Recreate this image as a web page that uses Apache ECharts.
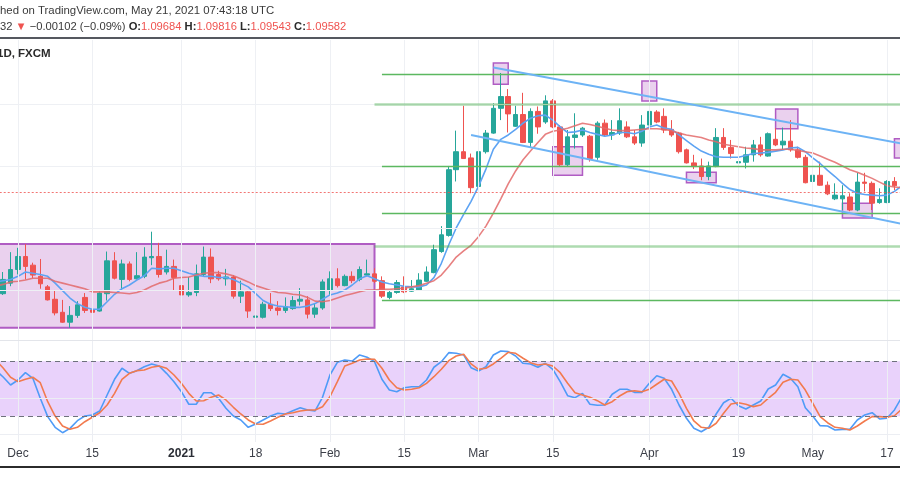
<!DOCTYPE html>
<html><head><meta charset="utf-8">
<script src="https://cdn.jsdelivr.net/npm/echarts@6.0.0/dist/echarts.min.js"></script>
<style>html,body{margin:0;padding:0;background:#fff;overflow:hidden}#c{width:900px;height:500px}</style>
</head><body><div id="c"></div>
<script>
// ---- trading days (EUR/CHF daily, FXCM) ----
const categories = [
'2020-11-26','2020-11-27','2020-11-30',
'2020-12-01','2020-12-02','2020-12-03','2020-12-04',
'2020-12-07','2020-12-08','2020-12-09','2020-12-10','2020-12-11',
'2020-12-14','2020-12-15','2020-12-16','2020-12-17','2020-12-18',
'2020-12-21','2020-12-22','2020-12-23','2020-12-24',
'2020-12-28','2020-12-29','2020-12-30','2020-12-31',
'2021-01-04','2021-01-05','2021-01-06','2021-01-07','2021-01-08',
'2021-01-11','2021-01-12','2021-01-13','2021-01-14','2021-01-15',
'2021-01-18','2021-01-19','2021-01-20','2021-01-21','2021-01-22',
'2021-01-25','2021-01-26','2021-01-27','2021-01-28','2021-01-29',
'2021-02-01','2021-02-02','2021-02-03','2021-02-04','2021-02-05',
'2021-02-08','2021-02-09','2021-02-10','2021-02-11','2021-02-12',
'2021-02-15','2021-02-16','2021-02-17','2021-02-18','2021-02-19',
'2021-02-22','2021-02-23','2021-02-24','2021-02-25','2021-02-26',
'2021-03-01','2021-03-02','2021-03-03','2021-03-04','2021-03-05',
'2021-03-08','2021-03-09','2021-03-10','2021-03-11','2021-03-12',
'2021-03-15','2021-03-16','2021-03-17','2021-03-18','2021-03-19',
'2021-03-22','2021-03-23','2021-03-24','2021-03-25','2021-03-26',
'2021-03-29','2021-03-30','2021-03-31','2021-04-01','2021-04-02',
'2021-04-05','2021-04-06','2021-04-07','2021-04-08','2021-04-09',
'2021-04-12','2021-04-13','2021-04-14','2021-04-15','2021-04-16',
'2021-04-19','2021-04-20','2021-04-21','2021-04-22','2021-04-23',
'2021-04-26','2021-04-27','2021-04-28','2021-04-29','2021-04-30',
'2021-05-03','2021-05-04','2021-05-05','2021-05-06','2021-05-07',
'2021-05-10','2021-05-11','2021-05-12','2021-05-13','2021-05-14',
'2021-05-17','2021-05-18','2021-05-19','2021-05-20'
];

// [open, high, low, close]; null = no visible candle
const ohlc = [
null,
[1.0794,1.0829,1.0792,1.0817],[1.0811,1.0861,1.0806,1.0833],[1.0833,1.0868,1.0825,1.0854],[1.0854,1.0874,1.0817,1.0838],[1.0840,1.0844,1.0819,1.0824],
[1.0822,1.0850,1.0802,1.0810],[1.0805,1.0808,1.0783,1.0784],[1.0785,1.0800,1.0759,1.0763],[1.0764,1.0784,1.0747,1.0748],[1.0748,1.0774,1.0739,1.0759],
[1.0759,1.0782,1.0755,1.0776],[1.0788,1.0795,1.0763,1.0767],[1.0768,1.0790,1.0759,1.0764],[1.0766,1.0798,1.0765,1.0795],[1.0794,1.0862,1.0783,1.0847],
[1.0847,1.0861,1.0817,1.0819],[1.0817,1.0849,1.0800,1.0842],[1.0842,1.0846,1.0814,1.0817],[1.0818,1.0861,1.0817,1.0823],[1.0822,1.0869,1.0819,1.0853],
[1.0852,1.0894,1.0840,1.0854],[1.0854,1.0876,1.0820,1.0825],[1.0829,1.0865,1.0825,1.0838],[1.0838,1.0849,1.0800,1.0820],[1.0807,1.0811,1.0790,1.0792],
[1.0792,1.0821,1.0789,1.0796],[1.0796,1.0841,1.0790,1.0826],[1.0825,1.0870,1.0822,1.0853],[1.0853,1.0867,1.0811,1.0818],[1.0825,1.0831,1.0815,1.0818],
[1.0818,1.0834,1.0807,1.0821],[1.0821,1.0824,1.0786,1.0790],[1.0790,1.0815,1.0779,1.0797],[1.0797,1.0799,1.0755,1.0766],[1.0756,1.0774,1.0743,1.0758],
[1.0756,1.0781,1.0754,1.0777],[1.0777,1.0795,1.0766,1.0770],[1.0771,1.0782,1.0759,1.0767],[1.0767,1.0788,1.0763,1.0773],[1.0770,1.0790,1.0768,1.0783],
[1.0782,1.0803,1.0775,1.0785],[1.0784,1.0790,1.0754,1.0761],[1.0761,1.0779,1.0755,1.0771],[1.0771,1.0817,1.0768,1.0813],[1.0800,1.0830,1.0792,1.0818],
[1.0818,1.0835,1.0804,1.0807],[1.0807,1.0825,1.0806,1.0822],[1.0822,1.0830,1.0811,1.0815],[1.0817,1.0838,1.0814,1.0833],[1.0824,1.0849,1.0822,1.0826],
[1.0826,1.0835,1.0811,1.0814],[1.0815,1.0822,1.0787,1.0790],[1.0788,1.0800,1.0785,1.0796],[1.0796,1.0816,1.0794,1.0812],[1.0805,1.0822,1.0795,1.0797],
[1.0798,1.0816,1.0797,1.0802],[1.0800,1.0827,1.0799,1.0816],[1.0814,1.0838,1.0813,1.0829],[1.0828,1.0873,1.0827,1.0865],[1.0862,1.0903,1.0860,1.0889],
[1.0888,1.1000,1.0886,1.0994],[1.0994,1.1057,1.0975,1.1023],[1.1023,1.1097,1.1012,1.1012],[1.1013,1.1020,1.0956,1.0965],[1.0967,1.1027,1.0955,1.1023],
[1.1023,1.1058,1.1020,1.1053],[1.1053,1.1101,1.1052,1.1093],[1.1093,1.1150,1.1074,1.1112],[1.1112,1.1124,1.1054,1.1084],[1.1064,1.1097,1.1063,1.1083],
[1.1083,1.1118,1.1037,1.1038],[1.1038,1.1093,1.1030,1.1088],[1.1088,1.1096,1.1052,1.1063],[1.1071,1.1114,1.1068,1.1105],[1.1105,1.1108,1.1061,1.1063],
[1.1063,1.1066,1.1000,1.1002],[1.1002,1.1058,1.1000,1.1047],[1.1046,1.1085,1.1028,1.1050],[1.1050,1.1063,1.1047,1.1061],[1.1048,1.1050,1.1007,1.1012],
[1.1014,1.1072,1.1010,1.1069],[1.1069,1.1075,1.1048,1.1050],[1.1050,1.1074,1.1042,1.1054],[1.1053,1.1093,1.1050,1.1073],[1.1063,1.1072,1.1045,1.1047],
[1.1047,1.1058,1.1034,1.1037],[1.1037,1.1082,1.1031,1.1066],[1.1066,1.1117,1.1058,1.1088],[1.1087,1.1090,1.1069,1.1071],[1.1080,1.1093,1.1053,1.1058],
[1.1059,1.1074,1.1047,1.1050],[1.1053,1.1055,1.1020,1.1023],[1.1026,1.1028,1.1004,1.1005],[1.1005,1.1018,1.0995,1.0999],[1.1000,1.1012,1.0977,1.0983],
[1.0983,1.1007,1.0977,1.1000],[1.0999,1.1061,1.0998,1.1046],[1.1046,1.1061,1.1026,1.1030],[1.1030,1.1042,1.1012,1.1020],[1.1005,1.1028,1.0994,1.1007],
[1.1006,1.1031,1.0996,1.1018],[1.1018,1.1042,1.1007,1.1034],[1.1034,1.1047,1.1015,1.1018],[1.1016,1.1054,1.1015,1.1052],[1.1043,1.1061,1.1032,1.1034],
[1.1034,1.1062,1.1026,1.1040],[1.1040,1.1074,1.1023,1.1026],[1.1026,1.1031,1.1012,1.1014],[1.1014,1.1018,1.0972,1.0973],[1.0975,1.1018,1.0959,1.0985],
[1.0985,1.1007,1.0968,1.0969],[1.0969,1.0975,1.0953,1.0955],[1.0947,1.0972,1.0945,1.0953],[1.0947,1.0969,1.0929,1.0952],[1.0950,1.0956,1.0927,1.0929],
[1.0929,1.0989,1.0927,1.0974],[1.0974,1.0989,1.0959,1.0972],[1.0972,1.0975,1.0929,1.0940],[1.0941,1.0964,1.0939,1.0946],[1.0941,1.0977,1.0940,1.0975],
[1.0975,1.0982,1.0961,1.0968],
null, null
];

// moving averages
const maFast = [1.0813,
1.0815,1.0817,1.0822,1.0829,1.0827,1.0825,1.0822,1.0811,1.0799,1.0787,
1.0778,1.0772,1.0769,1.0769,1.0781,1.0793,1.0802,1.0808,1.0816,1.0823,
1.0835,1.0834,1.0835,1.0835,1.0831,1.0827,1.0824,1.0822,1.0822,1.0820,
1.0820,1.0817,1.0811,1.0805,1.0794,1.0783,1.0777,1.0774,1.0773,1.0772,
1.0772,1.0774,1.0778,1.0785,1.0792,1.0795,1.0800,1.0808,1.0818,1.0823,
1.0818,1.0813,1.0810,1.0808,1.0806,1.0805,1.0805,1.0808,1.0820,1.0843,
1.0873,1.0900,1.0922,1.0943,1.0967,1.0995,1.1027,1.1043,1.1050,1.1059,
1.1069,1.1077,1.1081,1.1082,1.1074,1.1063,1.1054,1.1055,1.1058,1.1054,
1.1051,1.1048,1.1050,1.1054,1.1054,1.1052,1.1056,1.1063,1.1066,1.1061,
1.1059,1.1050,1.1041,1.1032,1.1024,1.1019,1.1015,1.1014,1.1014,1.1014,
1.1017,1.1020,1.1021,1.1022,1.1024,1.1026,1.1029,1.1030,1.1023,1.1013,
1.1004,1.0993,1.0983,1.0972,1.0962,1.0956,1.0954,1.0953,1.0952,1.0953,
1.0959,1.0968,null];
const maSlow = [1.0806,
1.0809,1.0813,1.0814,1.0816,1.0819,1.0819,1.0819,1.0814,1.0811,1.0808,
1.0805,1.0802,1.0797,1.0797,1.0797,1.0796,1.0795,1.0794,1.0796,1.0800,
1.0806,1.0811,1.0814,1.0819,1.0820,1.0821,1.0824,1.0827,1.0828,1.0828,
1.0826,1.0823,1.0818,1.0813,1.0807,1.0803,1.0799,1.0796,1.0795,1.0793,
1.0792,1.0788,1.0782,1.0781,1.0783,1.0787,1.0791,1.0794,1.0797,1.0800,
1.0800,1.0801,1.0801,1.0802,1.0803,1.0805,1.0807,1.0811,1.0815,1.0824,
1.0838,1.0853,1.0863,1.0872,1.0886,1.0903,1.0924,1.0947,1.0971,1.0992,
1.1010,1.1024,1.1038,1.1051,1.1056,1.1058,1.1061,1.1065,1.1069,1.1067,
1.1064,1.1061,1.1058,1.1057,1.1057,1.1058,1.1059,1.1060,1.1060,1.1059,
1.1057,1.1053,1.1050,1.1048,1.1046,1.1042,1.1039,1.1035,1.1033,1.1031,
1.1029,1.1028,1.1026,1.1026,1.1026,1.1027,1.1027,1.1025,1.1023,1.1021,
1.1016,1.1011,1.1006,1.1000,1.0994,1.0990,1.0985,1.0980,1.0974,1.0968,
1.0966,1.0965,null];

// Stochastic RSI %K and %D
const stochK = [70.4,
62.8,54.1,59.5,67.5,61.4,39.6,19.6,8.0,2.1,6.9,
15.2,20.3,21.4,25.8,43.2,60.3,72.3,66.8,69.7,74.0,
77.0,74.8,66.8,57.7,46.8,33.1,33.1,45.7,45.7,39.6,
28.7,20.3,16.0,8.0,11.6,16.0,20.3,23.3,22.5,26.1,
29.4,26.9,25.8,40.7,65.0,78.8,81.3,80.2,86.8,84.3,
79.5,60.3,48.6,46.8,51.1,52.2,52.2,59.5,73.4,79.5,
89.3,88.6,86.8,72.9,69.3,74.0,86.8,91.1,90.4,85.7,
77.7,77.0,73.4,77.7,71.2,57.7,42.4,40.3,45.0,33.1,
32.0,32.3,44.0,49.4,49.4,46.1,46.1,55.9,64.2,61.4,
49.4,32.3,17.8,6.9,3.2,8.0,22.5,34.8,39.6,31.5,
27.9,32.3,36.7,49.7,54.1,65.7,61.4,52.2,29.4,20.3,
9.8,9.4,5.1,5.8,5.8,16.0,21.4,23.9,17.1,17.8,
26.9,41.0,null];
const stochD = [81.3,
72.6,62.5,57.7,60.3,62.5,56.6,35.9,20.3,9.4,5.8,
8.0,14.1,18.9,23.9,32.3,45.0,60.3,66.8,69.7,70.4,
73.4,74.8,72.3,65.0,55.9,45.0,36.7,37.0,40.7,43.2,
37.8,29.8,22.5,16.0,11.6,11.3,14.9,18.9,22.5,23.9,
25.8,26.9,26.9,30.5,41.3,57.7,74.8,77.7,81.3,82.4,
82.1,72.3,59.5,51.1,48.6,49.4,51.1,55.9,63.1,71.2,
80.6,85.7,87.5,77.0,71.2,72.3,77.0,83.2,89.7,88.6,
83.2,78.4,75.9,77.0,74.8,67.5,55.9,45.7,43.2,40.7,
37.0,32.3,35.9,42.1,46.8,47.9,46.8,49.4,54.9,60.3,
58.4,45.0,28.7,14.9,8.0,6.9,12.4,23.3,33.4,34.8,
33.1,30.5,32.3,39.6,46.1,57.0,60.3,59.5,48.6,34.2,
19.6,13.0,8.0,6.9,5.1,9.4,14.9,19.6,19.6,18.9,
20.6,27.9,null];

// time-axis tick labels
const tickDates  = ['2020-12-01','2020-12-15','2021-01-04','2021-01-18','2021-02-01','2021-02-15','2021-03-01','2021-03-15','2021-04-01','2021-04-19','2021-05-03','2021-05-17'];
const tickTexts  = ['Dec','15','2021','18','Feb','15','Mar','15','Apr','19','May','17'];
const priceTicks = [1.075,1.080,1.085,1.090,1.095,1.100,1.105,1.110,1.115];
const stochTicks = [0,40];
const stochBand  = [20,80];

// annotations (data coordinates)
const levelPrices = [1.1148,1.1100,1.1000,1.0923,1.0871,1.0784];
const levelStart  = ['2021-02-10','2021-02-09','2021-02-10','2021-02-10','2021-02-09','2021-02-10'];
const levelStrong = [false,true,false,false,true,false];
const trendUpper  = [['2021-03-03',1.1159],['2021-05-20',1.1034]];
const trendLower  = [['2021-02-26',1.1050],['2021-05-20',1.0904]];
const rangeBox    = [['2020-11-26',1.0874],['2021-02-09',1.0739]];
const markBoxes   = [
  [['2021-03-03',1.1166],['2021-03-05',1.1132]],
  [['2021-03-15',1.1031],['2021-03-19',1.0985]],
  [['2021-03-31',1.1137],['2021-04-02',1.1105]],
  [['2021-04-08',1.0990],['2021-04-14',1.0973]],
  [['2021-04-26',1.1092],['2021-04-29',1.1060]],
  [['2021-05-07',1.0940],['2021-05-13',1.0916]],
  [['2021-05-18',1.1044],['2021-05-20',1.1013]]
];
const lastClose = 1.09582;

// ---------------------------------------------------------------
const labelOf = {};
tickDates.forEach((d,i)=>{ labelOf[d] = tickTexts[i]; });
const lastCat = categories[categories.length-1];
const candleData = ohlc.map(r => r ? [r[0], r[3], r[2], r[1]] : '-');
const nulls = categories.map(()=>null);

const GREEN = '#26a69a', RED = '#ef5350';
const FONT = '"Liberation Sans", Arial, sans-serif';
const gridCommon = { left: -8, right: -13, outerBoundsMode: 'none', containLabel: false };

const chart = echarts.init(document.getElementById('c'), null, {renderer:'canvas'});
chart.setOption({
  animation: false,
  backgroundColor: '#ffffff',
  grid: [
    Object.assign({ top: 40, height: 300 }, gridCommon),
    Object.assign({ top: 341, height: 101 }, gridCommon)
  ],
  xAxis: [
    { type:'category', gridIndex:0, data: categories, boundaryGap:true,
      axisLine:{show:false}, axisTick:{show:false}, axisLabel:{show:false}, splitLine:{show:false} },
    { type:'category', gridIndex:1, data: categories, boundaryGap:true,
      axisLine:{show:true, lineStyle:{color:'#dcdfe6', width:1}}, axisTick:{show:false}, splitLine:{show:false},
      axisLabel:{
        show:true, margin:6, color:'#3b3e47', fontSize:12, fontFamily:FONT,
        hideOverlap:false,
        interval:(idx, val) => labelOf[val] !== undefined,
        formatter:(val) => labelOf[val] === '2021' ? '{b|2021}' : (labelOf[val] || ''),
        rich:{ b:{ fontWeight:'bold', fontSize:12, color:'#2a2d35', fontFamily:FONT } }
      } }
  ],
  yAxis: [
    { type:'value', gridIndex:0, min:1.07193, max:1.12032, show:false, splitLine:{show:false} },
    { type:'value', gridIndex:1, min:-8, max:102, show:false, splitLine:{show:false} }
  ],
  series: [
    { type:'line', xAxisIndex:0, yAxisIndex:0, data:nulls, silent:true, z:1, symbol:'none',
      markLine:{ silent:true, symbol:['none','none'], label:{show:false}, emphasis:{disabled:true},
        lineStyle:{color:'#eef0f4', width:1, type:'solid'},
        data:[ ...priceTicks.map(v=>({yAxis:v})), ...tickDates.map(d=>({xAxis:d})) ] } },
    { type:'line', xAxisIndex:0, yAxisIndex:0, data:nulls, silent:true, z:2, symbol:'none',
      markArea:{ silent:true, emphasis:{disabled:true}, label:{show:false},
        data:[
          [ {xAxis:rangeBox[0][0], yAxis:rangeBox[0][1], itemStyle:{color:'rgba(186,104,200,0.30)', borderColor:'#b05cc3', borderWidth:2}},
            {xAxis:rangeBox[1][0], yAxis:rangeBox[1][1]} ],
          ...markBoxes.map(b => [
            {xAxis:b[0][0], yAxis:b[0][1], itemStyle:{color:'rgba(186,104,200,0.30)', borderColor:'#b05cc3', borderWidth:1.5}},
            {xAxis:b[1][0], yAxis:b[1][1]} ])
        ] },
      markLine:{ silent:true, symbol:['none','none'], label:{show:false}, emphasis:{disabled:true},
        data:[
          ...levelPrices.map((p,i)=>[
            {coord:[levelStart[i], p], lineStyle: levelStrong[i]
                ? {color:'rgba(76,175,80,0.45)', width:2.6, type:'solid'}
                : {color:'#5cb860', width:1.4, type:'solid'}},
            {coord:[lastCat, p]} ]),
          [ {coord:trendUpper[0], lineStyle:{color:'#6db3f5', width:2, type:'solid'}}, {coord:trendUpper[1]} ],
          [ {coord:trendLower[0], lineStyle:{color:'#6db3f5', width:2, type:'solid'}}, {coord:trendLower[1]} ],
          [ {coord:[categories[0], lastClose], lineStyle:{color:'#ef5350', width:1, type:[2,2], opacity:0.8}}, {coord:[lastCat, lastClose]} ]
        ] } },
    { type:'candlestick', xAxisIndex:0, yAxisIndex:0, data:candleData, z:3, barWidth:5,
      itemStyle:{ color:GREEN, color0:RED, borderColor:GREEN, borderColor0:RED, borderWidth:1 } },
    { type:'line', xAxisIndex:0, yAxisIndex:0, data:maFast, z:4, symbol:'none', smooth:false,
      lineStyle:{color:'#5da3f3', width:1.6} },
    { type:'line', xAxisIndex:0, yAxisIndex:0, data:maSlow, z:4, symbol:'none', smooth:false,
      lineStyle:{color:'#e36a6a', width:1.6, opacity:0.85} },
    { type:'line', xAxisIndex:1, yAxisIndex:1, data:nulls, silent:true, z:1, symbol:'none',
      markArea:{ silent:true, emphasis:{disabled:true}, label:{show:false},
        itemStyle:{color:'#e9d2fb'},
        data:[ [ {yAxis:stochBand[1]}, {yAxis:stochBand[0]} ] ] },
      markLine:{ silent:true, symbol:['none','none'], label:{show:false}, emphasis:{disabled:true},
        data:[
          ...stochTicks.map(v=>({yAxis:v, lineStyle:{color:'#eceef3', width:1, type:'solid'}})),
          ...tickDates.map(d=>({xAxis:d, lineStyle:{color:'#eceef3', width:1, type:'solid'}})),
          ...stochBand.map(v=>({yAxis:v, lineStyle:{color:'#6e717c', width:1, type:[5,4]}}))
        ] } },
    { type:'line', xAxisIndex:1, yAxisIndex:1, data:stochK, z:3, symbol:'none',
      lineStyle:{color:'#4f9bf7', width:1.6} },
    { type:'line', xAxisIndex:1, yAxisIndex:1, data:stochD, z:3, symbol:'none',
      lineStyle:{color:'#f27a4e', width:1.6} }
  ],
  graphic: [
    { type:'text', left:0, top:5, z:10, silent:true,
      style:{ text:'hed on TradingView.com, May 21, 2021 07:43:18 UTC', fill:'#3a3a3a',
        font:'11.4px ' + FONT } },
    { type:'text', left:0, top:21, z:10, silent:true,
      style:{ text:'32 {r|▼} −0.00102 (−0.09%) {b|O:}{r|1.09684} {b|H:}{r|1.09816} {b|L:}{r|1.09543} {b|C:}{r|1.09582}',
        fill:'#3a3a3a', font:'11.2px ' + FONT,
        rich:{ r:{fill:'#ef5350', font:'11.2px ' + FONT},
               b:{fill:'#2a2a2a', font:'bold 11.2px ' + FONT} } } },
    { type:'line', z:10, silent:true, shape:{x1:0, y1:38, x2:900, y2:38}, style:{stroke:'#55585f', lineWidth:2} },
    { type:'text', left:-3, top:48, z:10, silent:true,
      style:{ text:'1D, FXCM', fill:'#2a2a2a', font:'bold 11.5px ' + FONT } },
    { type:'line', z:10, silent:true, shape:{x1:0, y1:340.5, x2:900, y2:340.5}, style:{stroke:'#e3e5ea', lineWidth:1} },
    { type:'line', z:10, silent:true, shape:{x1:0, y1:467, x2:900, y2:467}, style:{stroke:'#2b2b2b', lineWidth:2} }
  ]
});
</script>
</body></html>
